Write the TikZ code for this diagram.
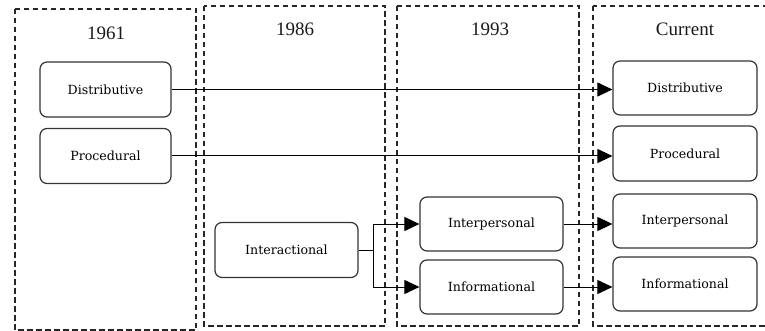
\documentclass[tikz,border=0pt]{standalone}
\usepackage{fontspec}
\setmainfont{Liberation Serif}
\newfontfamily\boxfont{DejaVu Serif}
\usetikzlibrary{arrows.meta}
\begin{document}
\begin{tikzpicture}[x=1pt,y=-1pt,
  panel/.style={draw=black!85, line width=1.1pt, dash pattern=on 5.5pt off 3.5pt},
  title/.style={font=\fontsize{19}{22}\selectfont, text=black!90, inner sep=0pt},
  kbox/.style={draw=black!80, line width=1.2pt, rounded corners=7pt, inner sep=0pt,
    font=\boxfont\fontsize{12.6}{14}\selectfont, text=black},
  conn/.style={draw=black, line width=1pt},
  arr/.style={conn, -{Triangle[length=15pt,width=14pt]}}
]
\useasboundingbox (0,0) rectangle (765,331);
\draw[panel] (15,9) rectangle (196,330);
\draw[panel] (204,6) rectangle (385,326);
\draw[panel] (397,6) rectangle (579,326);
\draw[panel] (593,6) rectangle (770,326);

\node[title] (t1) at (106,33) {1961};
\node[title] (t2) at (295,29) {1986};
\node[title] (t3) at (490,29) {1993};
\node[title] (t4) at (685,29) {Current};

\node[kbox, minimum width=131pt, minimum height=55pt] (d1) at (105.5,89.5) {Distributive};
\node[kbox, minimum width=131pt, minimum height=55pt] (p1) at (105.5,156) {Procedural};
\node[kbox, minimum width=143pt, minimum height=55pt] (ia) at (286.5,250) {Interactional};
\node[kbox, minimum width=143pt, minimum height=54pt] (ip) at (491.5,224) {Interpersonal};
\node[kbox, minimum width=143pt, minimum height=54pt] (if) at (491.5,287) {Informational};
\node[kbox, minimum width=144pt, minimum height=54pt] (d4) at (685,88) {Distributive};
\node[kbox, minimum width=144pt, minimum height=55pt] (p4) at (685,153.5) {Procedural};
\node[kbox, minimum width=144pt, minimum height=54pt] (ip4) at (685,221) {Interpersonal};
\node[kbox, minimum width=144pt, minimum height=54pt] (if4) at (685,284) {Informational};

\coordinate (j) at (373,250);
\draw[arr] (d1.east) -- (d1.east -| d4.west);
\draw[arr] (p1.east) -- (p1.east -| p4.west);
\draw[conn] (ia.east) -- (j);
\draw[arr] (j) |- (ip.west);
\draw[arr] (j) |- (if.west);
\draw[arr] (ip.east) -- (ip.east -| ip4.west);
\draw[arr] (if.east) -- (if.east -| if4.west);
\end{tikzpicture}
\end{document}
